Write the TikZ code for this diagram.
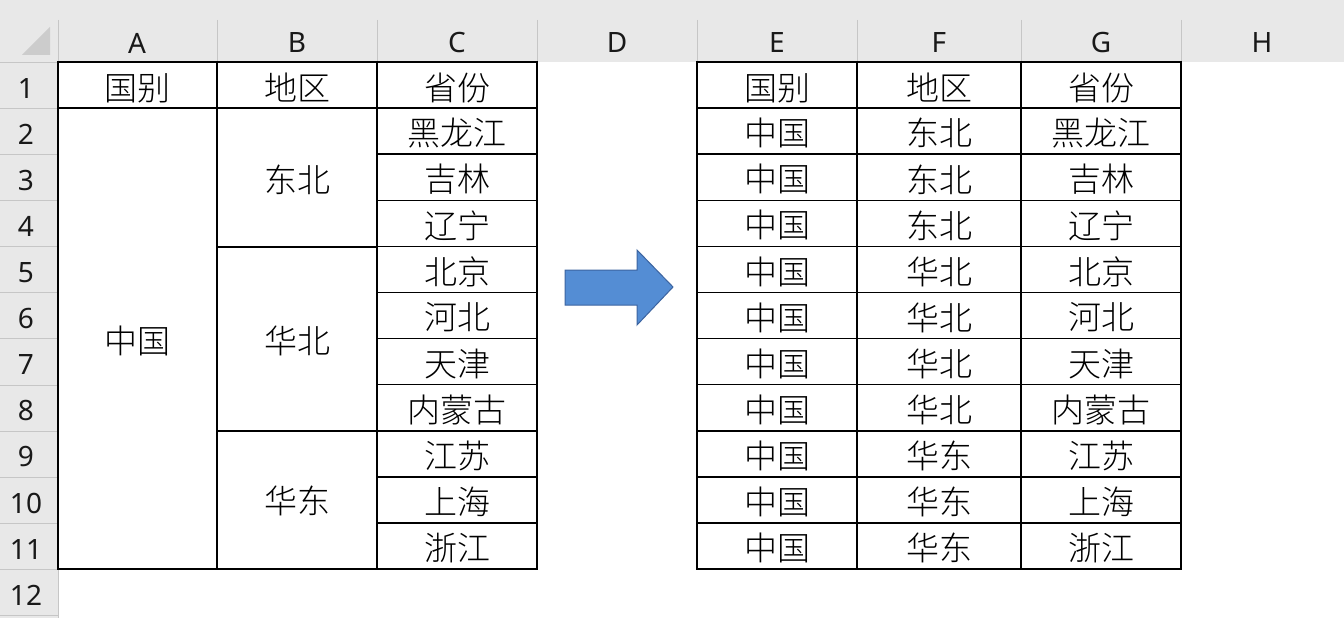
\documentclass[tikz,border=0pt]{standalone}
\usepackage{fontspec}
\newfontfamily\cjk{Noto Sans CJK SC Light}
\setmainfont{Noto Sans}
\begin{document}
\begin{tikzpicture}[x=1pt,y=-1pt,
  hdr/.style={font=\fontsize{28}{28}\selectfont, text=black!90},
  cell/.style={font=\cjk\fontsize{33}{33}\selectfont, text=black},
  tb/.style={line width=1.5pt,black}]
\useasboundingbox (0,0) rectangle (1344,618);
\fill[white] (0,0) rectangle (1344,618);
\fill[gray!18] (0,0) rectangle (1344,62);
\fill[gray!18] (0,0) rectangle (58,618);
\fill[gray!40] (22,55) -- (50,55) -- (50,27) -- cycle;
\foreach \x in {217,377,537,697,857,1021,1181} \draw[gray!45] (\x,20) -- (\x,62);
\draw[gray!45] (58,20) -- (58,618);
\draw[gray!45] (0,62) -- (58,62);
\foreach \i in {1,...,12} \draw[gray!45] (0,{62+46.1*\i}) -- (58,{62+46.1*\i});
\foreach \l/\x in {A/137,B/297,C/457,D/617,E/777,F/939,G/1101,H/1262}
  \node[hdr] (col\l) at (\x,43) {\l};
\foreach \i in {1,...,12} \node[hdr] (row\i) at (26,{62+46.1*\i-20}) {\i};
% left table
\draw[tb] (58,62) rectangle (537,569);
\draw[tb] (58,108) -- (537,108);
\draw[tb] (217,62) -- (217,569);
\draw[tb] (377,62) -- (377,569);
\foreach \i in {2,...,10} \draw[tb] (377,{62+46.1*\i}) -- (537,{62+46.1*\i});
\draw[tb] (217,247) -- (377,247);
\draw[tb] (217,431) -- (377,431);
\node[cell] (a1) at (137,88) {国别};
\node[cell] (b1) at (297,88) {地区};
\node[cell] (c1) at (457,88) {省份};
\node[cell] (a2) at (137,341) {中国};
\node[cell] (b2) at (297,180) {东北};
\node[cell] (b5) at (297,341) {华北};
\node[cell] (b9) at (297,501) {华东};
\foreach \t [count=\i from 2] in {黑龙江,吉林,辽宁,北京,河北,天津,内蒙古,江苏,上海,浙江}
  \node[cell] (c\i) at (457,{62+46.1*\i-21}) {\t};
% arrow
\draw[fill={rgb,255:red,84;green,141;blue,212}, draw={rgb,255:red,60;green,100;blue,160}, line width=1pt]
  (565,270) -- (637,270) -- (637,250) -- (673,287) -- (637,325) -- (637,305) -- (565,305) -- cycle;
% right table
\draw[tb] (697,62) rectangle (1181,569);
\draw[tb] (857,62) -- (857,569);
\draw[tb] (1021,62) -- (1021,569);
\foreach \i in {1,...,10} \draw[tb] (697,{62+46.1*\i}) -- (1181,{62+46.1*\i});
\node[cell] (e1) at (777,88) {国别};
\node[cell] (f1) at (939,88) {地区};
\node[cell] (g1) at (1101,88) {省份};
\foreach \r/\p [count=\i from 2] in {东北/黑龙江,东北/吉林,东北/辽宁,华北/北京,华北/河北,华北/天津,华北/内蒙古,华东/江苏,华东/上海,华东/浙江}{
  \node[cell] (e\i) at (777,{62+46.1*\i-21}) {中国};
  \node[cell] (f\i) at (939,{62+46.1*\i-21}) {\r};
  \node[cell] (g\i) at (1101,{62+46.1*\i-21}) {\p};
}
\end{tikzpicture}
\end{document}
